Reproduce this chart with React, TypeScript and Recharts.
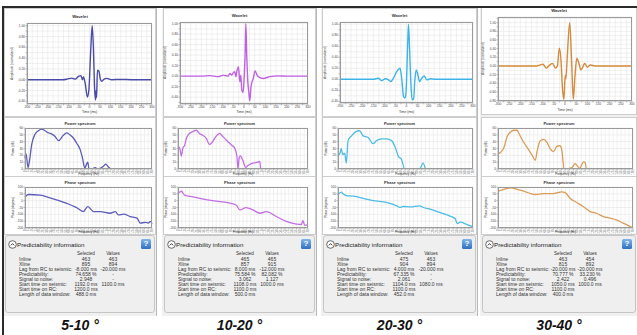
import React from 'react';
import { LineChart, Line, XAxis, YAxis, CartesianGrid } from 'recharts';

const FONT = '"Liberation Sans", Arial, sans-serif';

// wavelets: time (ms) and normalized amplitude
const wavelet1Time = [-300, -200, -130, -108, -85, -69, -53, -41, -34, -29, -21, -10, -3, 6, 13, 19, 24, 29, 32, 34, 38, 45, 51, 59, 70, 83, 107, 150, 200, 300];
const wavelet1Amp = [0, 0, 0, 0.01, 0.03, 0.01, 0.06, 0.075, 0, 0.05, -0.06, -0.32, -0.19, 0.56, 1.0, 0.56, -0.125, -0.375, -0.2, -0.33, 0.175, 0.16, 0.03, -0.03, 0.01, 0.025, 0, 0.005, 0, 0];

const wavelet2Time = [-300, -200, -160, -121, -97, -74, -66, -58, -51, -43, -38, -32, -26, -19.5, -15, -10, -4, 1, 5.5, 8.6, 13, 18, 22.6, 27, 33.5, 43, 52, 61.5, 74, 90, 121, 160, 200, 300];
const wavelet2Amp = [0, 0, 0.01, -0.01, 0.02, 0, 0.05, 0.02, 0.06, 0.085, -0.01, 0.12, 0.18, -0.11, 0.02, -0.27, -0.31, 0, 0.44, 1.0, 0.38, -0.11, -0.31, -0.47, -0.18, -0.05, 0.1, 0.02, -0.03, -0.045, -0.01, 0.005, 0, 0];

const wavelet3Time = [-300, -150, -127, -112, -96.5, -81, -71, -59, -44, -29, -21, -13.6, -6, -1.5, 4.5, 9, 13.6, 19.6, 25.6, 31.7, 37.7, 43.7, 49.8, 58.8, 69, 80, 92, 107, 130, 300];
const wavelet3Amp = [0, 0, 0.02, -0.025, 0.01, -0.01, -0.04, 0.02, 0.14, 0.2, -0.01, -0.31, -0.34, -0.19, 0.53, 1.0, 0.59, -0.07, -0.37, -0.36, -0.01, 0.17, 0.11, -0.04, 0.02, 0.06, -0.01, 0.01, 0, 0];

const wavelet4Time = [-300, -150, -128, -113, -98.5, -84, -69, -55, -43, -34, -25.5, -18, -11, -5, 1, 4, 10, 21, 30, 37, 44.5, 53, 62, 71, 80, 88, 100, 113, 135, 300];
const wavelet4Amp = [0, 0, 0, 0.02, 0.04, -0.05, 0.02, 0.06, -0.05, 0, 0.41, 0.14, -0.55, -0.77, -0.22, -0.3, 0.2, 1.0, 0.06, -0.77, -0.25, 0.18, 0.06, -0.09, -0.02, 0.06, -0.03, 0.02, 0, 0];

// power spectra: frequency (Hz) and power
const power1Freq = [0, 1.5, 4, 6, 9, 13, 18, 22, 27, 31, 36, 40, 45, 51, 56, 60, 65, 69, 74, 77, 80, 82, 84, 85.5, 89, 94, 97, 105, 108, 112, 115];
const power1 = [16, 22, 2, 12, 36, 50, 56, 58.5, 56, 53, 51, 48, 41.5, 49, 53, 50, 45, 38, 28, 16, 1.5, 6, 10, 1, 0, 2, 0, 4, 7, 2.5, 0];

const power2Freq = [0, 2.2, 4.4, 6.5, 8.7, 11, 15, 20, 24, 28, 33, 37, 41, 44, 48, 52, 54.5, 59, 63, 70, 74, 77, 78.5, 80, 81.5, 85, 88.5, 91.5, 96, 102, 107, 108];
const power2 = [33, 31, 19, 31, 34.5, 45, 52, 55, 57, 52, 49, 45, 36, 38, 45, 50.5, 52, 47, 42.5, 35, 31, 19, 0, 16.5, 19, 12, 2.4, 5, 8, 9.5, 11, 0];

const power3Freq = [0, 2, 4, 6, 8.4, 10.5, 12.7, 17, 23, 27, 31.7, 38, 44, 48.5, 55, 61, 67.5, 72, 76, 80, 84, 103, 107, 110];
const power3 = [23, 21, 30, 21, 23, 9, 41.5, 48.5, 55, 56, 48.5, 46, 37, 41.5, 44, 44, 41.5, 32, 18.5, 14, 0, 0, 9, 0];

const power4Freq = [0, 3.3, 7.5, 11.7, 15.8, 20, 24, 26, 30, 36.7, 43, 47, 49, 53, 57.5, 61.7, 66, 70, 74, 78, 80.5, 83, 84.6, 93, 97, 99, 103, 107.6, 109.7, 111];
const power4 = [22, 24.5, 31.6, 48, 54, 56.7, 56.7, 53, 43.5, 31.6, 20, 12.8, 24.5, 41, 43.5, 39, 29, 25.5, 33, 34, 27, 1, 0, 2, 8, 5.7, 1, 10.4, 10, 0];

// phase spectra: frequency (Hz) and phase (degrees)
const phase1Freq = [0, 4.5, 20, 33.5, 56, 69, 78, 84, 92, 100.6, 114, 121, 125, 132, 141, 150, 154, 161, 165, 168, 170];
const phase1 = [28, 45, 40, 21, -20, -51, -80, -44, -80, -80, -92, -80, -104, -99, -116, -128, -164, -159, -164, -152, -171];

const phase2Freq = [0, 4.4, 8.7, 19.6, 41, 63, 76, 81, 89, 98, 107, 115.5, 128.6, 141.7, 154.8, 161, 163.5, 165.7, 170];
const phase2 = [52, 69, 40, 28, 4, -13, -32, -68, -51, -68, -92, -80, -116, -152, -171, -176, -147, -181, -176];

const phase3Freq = [0, 4.2, 6.3, 10.5, 19, 31.7, 44.3, 61, 74, 78, 82, 91, 103, 107.6, 116, 128.7, 141, 147.7, 150, 154, 162.5, 168.8];
const phase3 = [42.5, 62.5, 50, 37.5, 32.5, 17.5, 0, -12.5, -37.5, -50, -42.5, -45, -37.5, -50, -62.5, -87.5, -112.5, -132.5, -167.5, -157.5, -175, -187.5];

const phase4Freq = [0, 7.5, 15.8, 24, 32.5, 41, 47, 57.5, 70, 80.5, 84.6, 91, 99, 107.6, 116, 124, 132.6, 141, 149, 157.6, 166, 170];
const phase4 = [69, 83, 93, 83, 69, 52, 45, 52, 52, 64, 59, 16, -13, -44, -80, -92, -116, -128, -140, -164, -188, -200];

// axis ticks
const timeTicks = [-300, -275, -250, -225, -200, -175, -150, -125, -100, -75, -50, -25, 0, 25, 50, 75, 100, 125, 150, 175, 200, 225, 250, 275, 300];
const ampTicks1 = [-0.4, -0.3, -0.2, -0.1, 0, 0.1, 0.2, 0.3, 0.4, 0.5, 0.6, 0.7, 0.8, 0.9, 1.0];
const ampTicks2 = [-0.5, -0.4, -0.3, -0.2, -0.1, 0, 0.1, 0.2, 0.3, 0.4, 0.5, 0.6, 0.7, 0.8, 0.9, 1.0];
const ampTicks4 = [-0.8, -0.7, -0.6, -0.5, -0.4, -0.3, -0.2, -0.1, 0, 0.1, 0.2, 0.3, 0.4, 0.5, 0.6, 0.7, 0.8, 0.9, 1.0, 1.1];
const freqTicks = [0, 5, 10, 15, 20, 25, 30, 35, 40, 45, 50, 55, 60, 65, 70, 75, 80, 85, 90, 95, 100, 105, 110, 115, 120, 125, 130, 135, 140, 145, 150, 155, 160, 165, 170];
const powerTicks = [0, 10, 20, 30, 40, 50, 60];
const phaseTicks = [-200, -150, -100, -50, 0, 50, 100];

// predictability table
const infoLabels = ['Inline', 'Xline', 'Lag from RC to seismic:', 'Predictability:', 'Signal to noise:', 'Start time on seismic:', 'Start time on RC:', 'Length of data window:'];
const selected1 = ['463', '895', '-8.000 ms', '74.658 %', '2.948', '1192.0 ms', '1200.0 ms', '488.0 ms'];
const values1 = ['463', '894', '-20.000 ms', '-', '-', '1100.0 ms', '', ''];
const selected2 = ['465', '857', '8.000 ms', '75.584 %', '3.062', '1108.0 ms', '1100.0 ms', '500.0 ms'];
const values2 = ['465', '915', '-12.000 ms', '82.082 %', '1.127', '1000.0 ms', '', ''];
const selected3 = ['475', '904', '4.000 ms', '67.335 %', '2.061', '1104.0 ms', '1100.0 ms', '452.0 ms'];
const values3 = ['463', '894', '-20.000 ms', '-', '-', '1080.0 ms', '', ''];
const selected4 = ['463', '815', '-20.000 ms', '70.777 %', '2.422', '1050.0 ms', '1100.0 ms', '400.0 ms'];
const values4 = ['454', '892', '-20.000 ms', '33.230 %', '0.496', '1000.0 ms', '', ''];

const angleLabels = ['5-10 °', '10-20 °', '20-30 °', '30-40 °'];

const zip = (xs: number[], ys: number[]) => xs.map((x, i) => ({ x, y: ys[i] }));

const columns = [
  {
    x: 5, w: 150, color: '#4a4aa8', specColor: '#5b5bb8',
    wTop: 9, wmt: 14, wBottom: 95, wl: 22, wr: 3, sl: 20, sr: 3,
    wDomain: [-0.45, 1.05], wTicks: ampTicks1,
    wave: zip(wavelet1Time, wavelet1Amp), power: zip(power1Freq, power1), phase: zip(phase1Freq, phase1),
    selected: selected1, values: values1, label: angleLabels[0],
  },
  {
    x: 164, w: 151, color: '#c060e4', specColor: '#c46ee6',
    wTop: 9, wmt: 13, wBottom: 95, wl: 16, wr: 7, sl: 14, sr: 7,
    wDomain: [-0.53, 1.03], wTicks: ampTicks2,
    wave: zip(wavelet2Time, wavelet2Amp), power: zip(power2Freq, power2), phase: zip(phase2Freq, phase2),
    selected: selected2, values: values2, label: angleLabels[1],
  },
  {
    x: 323, w: 153, color: '#3cb4ea', specColor: '#4cbce8',
    wTop: 9, wmt: 13, wBottom: 94, wl: 17, wr: 3, sl: 15, sr: 3,
    wDomain: [-0.43, 1.04], wTicks: ampTicks1,
    wave: zip(wavelet3Time, wavelet3Amp), power: zip(power3Freq, power3), phase: zip(phase3Freq, phase3),
    selected: selected3, values: values3, label: angleLabels[2],
  },
  {
    x: 482, w: 154, color: '#d68a3c', specColor: '#dc9c58',
    wTop: 7, wmt: 10, wBottom: 94, wl: 16, wr: 4, sl: 16, sr: 3,
    wDomain: [-0.81, 1.13], wTicks: ampTicks4,
    wave: zip(wavelet4Time, wavelet4Amp), power: zip(power4Freq, power4), phase: zip(phase4Freq, phase4),
    selected: selected4, values: values4, label: angleLabels[3],
  },
];

type Col = (typeof columns)[number];

const tickText = { fontSize: 3.2, fill: '#444', fontFamily: FONT };

const FreqTick = (props: any) => {
  const { x, y, payload } = props;
  return (
    <text x={x} y={y} transform={`rotate(-90 ${x} ${y})`} textAnchor="end" dominantBaseline="central" fontSize={2.6} fill="#555" fontFamily={FONT}>
      {payload.value}
    </text>
  );
};

const small = (extra: React.CSSProperties): React.CSSProperties => ({
  position: 'absolute', fontFamily: FONT, color: '#333', whiteSpace: 'nowrap', lineHeight: 1, ...extra,
});

function PlotFrame({ left, top, width, height }: { left: number; top: number; width: number; height: number }) {
  return <div style={{ position: 'absolute', left, top, width, height, border: '0.5px solid #9a9a9a', boxSizing: 'border-box', pointerEvents: 'none' }} />;
}

function WaveletPanel({ c }: { c: Col }) {
  const h = 107;
  const plotW = c.w - c.wl - c.wr;
  return (
    <div style={{ position: 'absolute', left: c.x, top: c.wTop, width: c.w, height: h, background: '#fff', outline: '1px solid #cdcdcd' }}>
      <LineChart width={c.w} height={h} data={c.wave} margin={{ top: c.wmt, right: c.wr, bottom: 0, left: 0 }}>
        <CartesianGrid stroke="#e0e0e0" strokeWidth={0.5} />
        <XAxis dataKey="x" type="number" domain={[-300, 300]} ticks={timeTicks} interval={0}
          tickFormatter={(v: number) => (v % 50 === 0 ? String(v) : '')}
          tick={tickText} tickSize={1.5} tickMargin={0.5} height={h - c.wBottom} stroke="#888" strokeWidth={0.5} />
        <YAxis type="number" domain={c.wDomain} ticks={c.wTicks} interval={0} allowDataOverflow
          tickFormatter={(v: number) => (Math.round(v * 10) % 2 === 0 ? v.toFixed(2) : '')}
          tick={tickText} tickSize={1.5} tickMargin={0.5} width={c.wl} stroke="#888" strokeWidth={0.5} />
        <Line type="monotone" dataKey="y" stroke={c.color} strokeWidth={1.4} dot={false} isAnimationActive={false} />
      </LineChart>
      <PlotFrame left={c.wl} top={c.wmt} width={plotW} height={c.wBottom - c.wmt} />
      <div style={small({ left: 0, width: c.w, top: c.wmt - 8, textAlign: 'center', fontSize: 4.2, fontWeight: 'bold' })}>Wavelet</div>
      <div style={small({ left: c.wl, width: plotW, top: h - 5, textAlign: 'center', fontSize: 3.4 })}>Time (ms)</div>
      <div style={small({ left: c.wl - 14 - 30, width: 60, top: (c.wmt + c.wBottom) / 2 - 2, textAlign: 'center', fontSize: 3.2, transform: 'rotate(-90deg)' })}>
        Amplitude (normalized)
      </div>
    </div>
  );
}

function SpectrumPanel({ c, top, h, title, yTitle, data, domain, ticks }: {
  c: Col; top: number; h: number; title: string; yTitle: string;
  data: { x: number; y: number }[]; domain: number[]; ticks: number[];
}) {
  const mt = 10;
  const plotBottom = 51;
  const plotW = c.w - c.sl - c.sr;
  return (
    <div style={{ position: 'absolute', left: c.x, top, width: c.w, height: h, background: '#fff', outline: '1px solid #cdcdcd' }}>
      <LineChart width={c.w} height={h} data={data} margin={{ top: mt, right: c.sr, bottom: 0, left: 0 }}>
        <CartesianGrid stroke="#e0e0e0" strokeWidth={0.5} />
        <XAxis dataKey="x" type="number" domain={[0, 170]} ticks={freqTicks} interval={0}
          tick={<FreqTick />} tickSize={1} tickMargin={0.5} height={h - plotBottom} stroke="#888" strokeWidth={0.5} />
        <YAxis type="number" domain={domain} ticks={ticks} interval={0} allowDataOverflow
          tick={tickText} tickSize={1.5} tickMargin={0.5} width={c.sl} stroke="#888" strokeWidth={0.5} />
        <Line type="monotone" dataKey="y" stroke={c.specColor} strokeWidth={1.3} dot={false} isAnimationActive={false} />
      </LineChart>
      <PlotFrame left={c.sl} top={mt} width={plotW} height={plotBottom - mt} />
      <div style={small({ left: 0, width: c.w, top: 3.5, textAlign: 'center', fontSize: 4, fontWeight: 'bold' })}>{title}</div>
      <div style={small({ left: c.sl, width: plotW, top: h - 3.5, textAlign: 'center', fontSize: 3 })}>Frequency (Hz)</div>
      <div style={small({ left: c.sl - 12 - 25, width: 50, top: (mt + plotBottom) / 2 - 1.5, textAlign: 'center', fontSize: 2.8, transform: 'rotate(-90deg)' })}>
        {yTitle}
      </div>
    </div>
  );
}

function InfoBox({ c }: { c: Col }) {
  const colA = 80;
  const colB = 107;
  return (
    <div style={{ position: 'absolute', left: c.x, top: 235, width: c.w, height: 78, background: '#efefef', border: '1px solid #c6c6c6', borderRadius: 3, boxSizing: 'border-box' }}>
      <svg width={9} height={9} style={{ position: 'absolute', left: 1.5, top: 4 }}>
        <circle cx={4.5} cy={4.5} r={3.8} fill="#fff" stroke="#444" strokeWidth={0.8} />
        <polyline points="2.8,5.4 4.5,3.6 6.2,5.4" fill="none" stroke="#222" strokeWidth={0.9} />
      </svg>
      <div style={small({ left: 11, top: 5.5, fontSize: 6.2, color: '#222' })}>Predictability information</div>
      <div style={{ position: 'absolute', right: 3, top: 2.5, width: 10, height: 10, borderRadius: 1.5, background: 'linear-gradient(#7db4ee, #2f6fc2)', color: '#fff', fontFamily: FONT, fontWeight: 'bold', fontSize: 8, lineHeight: '10px', textAlign: 'center' }}>?</div>
      <div style={small({ left: colA - 20, width: 40, top: 16, textAlign: 'center', fontSize: 4.6 })}>Selected</div>
      <div style={small({ left: colB - 20, width: 40, top: 16, textAlign: 'center', fontSize: 4.6 })}>Values</div>
      {infoLabels.map((lab, i) => (
        <React.Fragment key={lab}>
          <div style={small({ left: 13, top: 21 + i * 5, fontSize: 5 })}>{lab}</div>
          <div style={small({ left: colA - 20, width: 40, top: 21 + i * 5, textAlign: 'center', fontSize: 5 })}>{c.selected[i]}</div>
          <div style={small({ left: colB - 20, width: 40, top: 21 + i * 5, textAlign: 'center', fontSize: 5 })}>{c.values[i]}</div>
        </React.Fragment>
      ))}
    </div>
  );
}

function AngleColumn({ c }: { c: Col }) {
  return (
    <>
      <div style={{ position: 'absolute', left: c.x - 2, top: 8, width: c.w + 3, height: 308, background: '#f0f0f0', borderRight: '1px solid #b8b8b8' }} />
      <WaveletPanel c={c} />
      <SpectrumPanel c={c} top={118} h={58} title="Power spectrum" yTitle="Power (dB)" data={c.power} domain={[0, 60]} ticks={powerTicks} />
      <SpectrumPanel c={c} top={177} h={57} title="Phase spectrum" yTitle="Phase (degrees)" data={c.phase} domain={[-200, 100]} ticks={phaseTicks} />
      <InfoBox c={c} />
      <div style={small({ left: c.x, width: c.w, top: 318, textAlign: 'center', fontSize: 14, fontWeight: 'bold', fontStyle: 'italic', color: '#111' })}>
        {c.label}
      </div>
    </>
  );
}

export default function App() {
  return (
    <div style={{ position: 'absolute', left: 0, top: 0, width: 637, height: 335, background: '#fff', overflow: 'hidden' }}>
      {columns.map((c, i) => (
        <AngleColumn key={i} c={c} />
      ))}
      <div style={{ position: 'absolute', left: 2, top: 6, width: 635, height: 2, background: '#2a2a2a' }} />
      <div style={{ position: 'absolute', left: 2, top: 6, width: 2, height: 329, background: '#2a2a2a' }} />
    </div>
  );
}
